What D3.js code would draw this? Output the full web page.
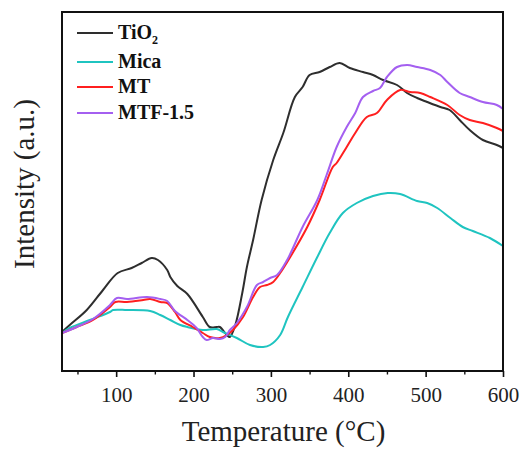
<!DOCTYPE html>
<html>
<head>
<meta charset="utf-8">
<script src="https://cdn.jsdelivr.net/npm/d3@7"></script>
<style>
  html, body { margin: 0; padding: 0; background: #fff; }
  svg { display: block; }
</style>
</head>
<body>
<script>
// ---- data (temperature °C, intensity a.u.) ----
const seriesNames = ["TiO2", "Mica", "MT", "MTF-1.5"];
const seriesColors = ["#2e2e2e", "#1fc4c0", "#ff1f1f", "#a45ff0"];

const tio2 = [[30,39],[40,46],[62,61],[83,81],[102,98],[120,103],[133,108],[146,113],[154,111],[166,101],[170,94],[179,85],[192,77],[212,54],[221,44],[230,44],[234,44],[243,36],[247,34],[254,46],[263,78],[269,104],[277,131],[288,171],[303,211],[316,238],[331,274],[341,284],[350,296],[363,299],[376,304],[389,308],[402,303],[419,299],[432,296],[445,291],[463,286],[476,278],[489,273],[502,269],[519,264],[531,261],[544,251],[557,241],[574,231],[592,226],[600,223]];

const mica = [[30,38],[40,43],[66,51],[92,59],[96,61],[114,61],[144,60],[157,56],[170,51],[183,46],[192,44],[212,41],[230,42],[238,39],[256,33],[273,26],[290,24],[299,26],[312,36],[322,54],[341,84],[360,114],[376,138],[393,158],[411,168],[432,175],[451,178],[467,177],[489,170],[502,168],[515,163],[532,153],[548,144],[561,140],[583,133],[600,125]];

const mt = [[30,38],[49,44],[70,51],[92,64],[99,69],[114,69],[135,71],[144,72],[157,69],[166,68],[176,59],[183,51],[199,44],[212,38],[221,34],[234,33],[243,36],[251,41],[264,54],[277,74],[286,84],[295,86],[303,89],[312,98],[325,114],[347,144],[363,171],[380,204],[385,208],[398,224],[409,238],[424,254],[437,258],[450,271],[467,281],[480,279],[493,278],[506,274],[528,266],[544,256],[557,251],[574,248],[592,243],[600,240]];

const mtf = [[30,38],[49,44],[70,52],[92,66],[101,73],[114,72],[140,74],[157,72],[166,70],[176,60],[192,51],[204,43],[212,34],[217,31],[225,33],[234,32],[241,34],[247,41],[256,48],[269,64],[282,86],[290,89],[299,93],[308,96],[321,111],[341,144],[360,171],[372,196],[385,224],[398,244],[409,258],[419,274],[432,280],[441,283],[450,294],[463,304],[476,306],[489,304],[506,301],[519,296],[528,289],[544,278],[557,274],[574,269],[592,266],[600,262]];

const xMajorTicks = [100, 200, 300, 400, 500, 600];
const xMinorTicks = [50, 150, 250, 350, 450, 550];

const allSeries = [tio2, mica, mt, mtf];

// ---- layout ----
const W = 526, H = 449;
const m = { left: 62, right: 23, top: 12, bottom: 78 };
const x = d3.scaleLinear().domain([30, 600]).range([m.left, W - m.right]);
const y = d3.scaleLinear().domain([0, 359]).range([H - m.bottom, m.top]);

const svg = d3.select("body").append("svg").attr("width", W).attr("height", H);
const serif = "'Liberation Serif', 'Times New Roman', serif";

// lines
const line = d3.line().x(d => x(d[0])).y(d => y(d[1])).curve(d3.curveCatmullRom.alpha(0.5));
svg.append("g").selectAll("path").data(allSeries).join("path")
  .attr("d", line)
  .attr("fill", "none")
  .attr("stroke", (d, i) => seriesColors[i])
  .attr("stroke-width", 2)
  .attr("stroke-linejoin", "round");

// frame
svg.append("rect")
  .attr("x", m.left).attr("y", m.top)
  .attr("width", W - m.left - m.right).attr("height", H - m.top - m.bottom)
  .attr("fill", "none").attr("stroke", "#111").attr("stroke-width", 2);

// bottom axis
const axis = svg.append("g").attr("transform", `translate(0,${H - m.bottom})`)
  .call(d3.axisBottom(x).tickValues(xMajorTicks).tickSize(6).tickPadding(10).tickFormat(d3.format("d")));
axis.select(".domain").remove();
axis.selectAll(".tick line").attr("stroke", "#111").attr("stroke-width", 1.6);
axis.selectAll("text").attr("font-family", serif).attr("font-size", 21).attr("fill", "#222");

const minor = svg.append("g").attr("transform", `translate(0,${H - m.bottom})`)
  .call(d3.axisBottom(x).tickValues(xMinorTicks).tickSize(3.5).tickFormat(""));
minor.select(".domain").remove();
minor.selectAll(".tick line").attr("stroke", "#111").attr("stroke-width", 1.4);

// axis titles
svg.append("text")
  .attr("x", (m.left + W - m.right) / 2 + 1).attr("y", 441)
  .attr("text-anchor", "middle")
  .attr("font-family", serif).attr("font-size", 29).attr("fill", "#222")
  .text("Temperature (°C)");

svg.append("text")
  .attr("transform", "translate(34,184) rotate(-90)")
  .attr("text-anchor", "middle")
  .attr("font-family", serif).attr("font-size", 29).attr("fill", "#222")
  .text("Intensity (a.u.)");

// legend
const legendY = [33, 62, 87, 113];
const lg = svg.append("g");
seriesNames.forEach((name, i) => {
  lg.append("line")
    .attr("x1", 77).attr("x2", 113).attr("y1", legendY[i]).attr("y2", legendY[i])
    .attr("stroke", seriesColors[i]).attr("stroke-width", 2);
  const t = lg.append("text")
    .attr("x", 118).attr("y", legendY[i] + 6)
    .attr("font-family", serif).attr("font-weight", "bold").attr("font-size", 20).attr("fill", "#111");
  if (name === "TiO2") {
    t.append("tspan").text("TiO");
    t.append("tspan").attr("font-size", 12).attr("dy", 5).text("2");
  } else {
    t.text(name);
  }
});
</script>
</body>
</html>
